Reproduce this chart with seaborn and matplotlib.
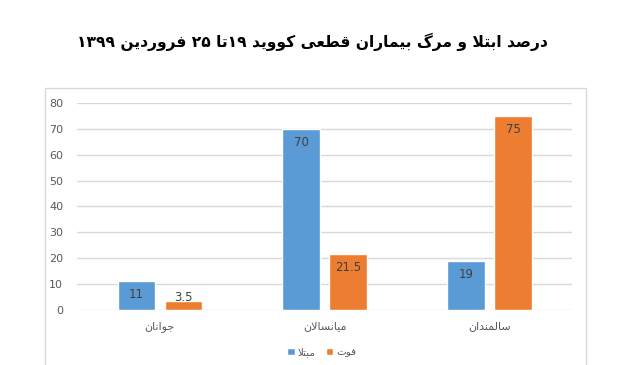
import pandas as pd
import numpy as np
import matplotlib
matplotlib.use('Agg')
import matplotlib.pyplot as plt
import seaborn as sns
from matplotlib.patches import Rectangle

#chart values
title = 'درصد ابتلا و مرگ بیماران قطعی کووید ۱۹تا ۲۵ فروردین ۱۳۹۹'
groups = ['جوانان', 'میانسالان', 'سالمندان']
series = ['مبتلا', 'فوت']
infected = [11, 70, 19]
deaths = [3.5, 21.5, 75]
yticks = [0, 10, 20, 30, 40, 50, 60, 70, 80]

#isolated, final, initial, medial presentation forms (matplotlib does no arabic shaping itself)
FORMS = {
    'ا': ('\uFE8D', '\uFE8E', None, None),
    'ب': ('\uFE8F', '\uFE90', '\uFE91', '\uFE92'),
    'ت': ('\uFE95', '\uFE96', '\uFE97', '\uFE98'),
    'ج': ('\uFE9D', '\uFE9E', '\uFE9F', '\uFEA0'),
    'د': ('\uFEA9', '\uFEAA', None, None),
    'ر': ('\uFEAD', '\uFEAE', None, None),
    'س': ('\uFEB1', '\uFEB2', '\uFEB3', '\uFEB4'),
    'ص': ('\uFEB9', '\uFEBA', '\uFEBB', '\uFEBC'),
    'ط': ('\uFEC1', '\uFEC2', '\uFEC3', '\uFEC4'),
    'ع': ('\uFEC9', '\uFECA', '\uFECB', '\uFECC'),
    'ف': ('\uFED1', '\uFED2', '\uFED3', '\uFED4'),
    'ق': ('\uFED5', '\uFED6', '\uFED7', '\uFED8'),
    'ل': ('\uFEDD', '\uFEDE', '\uFEDF', '\uFEE0'),
    'م': ('\uFEE1', '\uFEE2', '\uFEE3', '\uFEE4'),
    'ن': ('\uFEE5', '\uFEE6', '\uFEE7', '\uFEE8'),
    'و': ('\uFEED', '\uFEEE', None, None),
    'ی': ('\uFBFC', '\uFBFD', '\uFBFE', '\uFBFF'),
    'ک': ('\uFB8E', '\uFB8F', '\uFB90', '\uFB91'),
    'گ': ('\uFB92', '\uFB93', '\uFB94', '\uFB95'),
}


def fa(text):
    #shape the persian letters, then flip to visual order (digit runs stay left to right)
    out = []
    i = 0
    while i < len(text):
        ch = text[i]
        prev = text[i - 1] if i > 0 else ''
        prev_joins = prev in FORMS and FORMS[prev][2] is not None
        if ch not in FORMS:
            out.append(ch)
            i += 1
            continue
        if ch == 'ل' and i + 1 < len(text) and text[i + 1] == 'ا':
            out.append('\uFEFC' if prev_joins else '\uFEFB')
            i += 2
            continue
        nxt = text[i + 1] if i + 1 < len(text) else ''
        next_joins = nxt in FORMS and FORMS[ch][2] is not None
        iso, fin, ini, med = FORMS[ch]
        if prev_joins and next_joins:
            out.append(med)
        elif prev_joins:
            out.append(fin)
        elif next_joins:
            out.append(ini)
        else:
            out.append(iso)
        i += 1
    s = ''.join(out)[::-1]
    #put digit runs back in reading order
    res, run = [], []
    for c in s:
        if c.isdigit():
            run.append(c)
        else:
            res.extend(run[::-1])
            run = []
            res.append(c)
    res.extend(run[::-1])
    return ''.join(res)


df = pd.DataFrame({
    'group': [fa(g) for g in groups] * 2,
    'series': [fa(series[0])] * 3 + [fa(series[1])] * 3,
    'value': infected + deaths,
})

sns.set_style('white')
plt.rcParams['font.family'] = ['DejaVu Sans']

fig = plt.figure(figsize=(6.17, 3.65), dpi=100)
ax = fig.add_axes([0.125, 0.151, 0.802, 0.567])

palette = {fa(series[0]): '#5B9BD5', fa(series[1]): '#ED7D31'}
sns.barplot(data=df, x='group', y='value', hue='series', palette=palette,
            hue_order=[fa(s) for s in series], order=[fa(g) for g in groups],
            width=0.57, gap=0.21, saturation=1, ax=ax, zorder=3)

#value labels just inside the bar tops
for cont in ax.containers:
    for bar, v in zip(cont, cont.datavalues):
        ypos = max(v - 5.2, 4.6)
        lbl = ('%g' % v)
        ax.text(bar.get_x() + bar.get_width() / 2, ypos, lbl, ha='center', va='center',
                fontsize=8.5, color='#404040', zorder=4)

ax.set_ylim(0, 80)
ax.set_yticks(yticks)
ax.set_xlim(-0.5, 2.5)
ax.grid(axis='y', color='#d9d9d9', linewidth=1, zorder=0)
for s in ax.spines.values():
    s.set_visible(False)
ax.tick_params(axis='both', length=0, labelsize=8, labelcolor='#595959')
ax.tick_params(axis='x', pad=8)
ax.tick_params(axis='y', pad=10)
ax.set_xlabel('')
ax.set_ylabel('')

#legend under the plot
ax.legend(loc='center', bbox_to_anchor=(0.495, -0.205),
          ncol=2, frameon=False, fontsize=7.5, handlelength=0.7,
          handleheight=0.7, handletextpad=0.3, columnspacing=1.0, labelcolor='#595959')

#thin frame around the chart area, running off the bottom edge
fig.patches.append(Rectangle((45 / 617, -0.05), 541 / 617, 1.05 - 88 / 365,
                             transform=fig.transFigure, fill=False, edgecolor='#d9d9d9',
                             linewidth=1))

fig.text(0.507, 0.885, fa(title), ha='center', va='center', fontsize=11.2,
         fontweight='bold', color='black')

fig.savefig('out.png', dpi=100)
